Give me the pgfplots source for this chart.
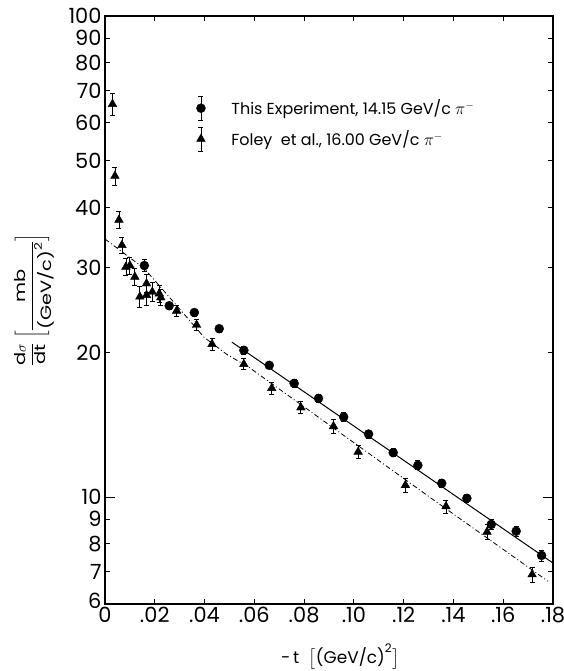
\documentclass[border=0pt]{standalone}
\usepackage{pgfplots}
\pgfplotsset{compat=1.18}
\usepackage{amsmath}
\usepackage{fontspec}
\setmainfont{Poppins}
\newfontfamily\widefont[FakeStretch=1.3]{Poppins}

\pgfplotstableread{
x y e
0.0030 65.6 3.5
0.0040 46.5 2.0
0.0056 37.7 1.5
0.0068 33.4 1.3
0.0084 30.1 1.2
0.0100 30.3 1.2
0.0120 28.7 1.2
0.0140 26.1 1.3
0.0167 26.3 1.3
0.0167 27.8 1.2
0.0190 26.7 1.2
0.0218 26.5 1.1
0.0224 26.0 1.0
0.0288 24.4 0.6
0.0368 22.8 0.6
0.0430 20.8 0.6
0.0558 18.9 0.5
0.0670 16.85 0.5
0.0787 15.36 0.45
0.0918 14.04 0.45
0.1017 12.42 0.4
0.1207 10.59 0.35
0.1370 9.57 0.3
0.1535 8.47 0.3
0.1716 6.91 0.25
}\foley

\pgfplotstableread{
x y e
0.0158 30.3 0.9
0.0258 25.0 0.4
0.0359 24.2 0.4
0.0459 22.4 0.35
0.0558 20.2 0.35
0.0660 18.8 0.3
0.0760 17.24 0.3
0.0858 16.05 0.3
0.0959 14.68 0.3
0.1059 13.53 0.25
0.1158 12.38 0.25
0.1257 11.65 0.25
0.1353 10.69 0.2
0.1454 9.95 0.2
0.1552 8.78 0.2
0.1652 8.50 0.2
0.1754 7.57 0.2
}\thisexp

\begin{document}
\begin{tikzpicture}
\useasboundingbox (-105bp,-67bp) rectangle (459bp,604bp);
\begin{axis}[
  scale only axis, width=448bp, height=588bp,
  ymode=log, xmin=0, xmax=0.18, ymin=6, ymax=100,
  axis line style={line width=1.6bp},
  xtick={0,0.02,0.04,0.06,0.08,0.10,0.12,0.14,0.16,0.18},
  xticklabels={0,.02,.04,.06,.08,.10,.12,.14,.16,.18},
  ytick={6,7,8,9,10,20,30,40,50,60,70,80,90,100},
  yticklabels={\raisebox{6bp}{6},7,8,9,10,20,30,40,50,60,70,80,90,100},
  yminorticks=false, xminorticks=false,
  tick align=inside, major tick length=5bp,
  tick style={line width=0.8bp, black},
  ticklabel style={font=\fontsize{21}{21}\selectfont},
  /pgf/number format/assume math mode=true,
  extra y ticks={10}, extra y tick labels={},
  extra y tick style={major tick length=10bp},
  xlabel={-\,t\;\;$\bigl[\text{(GeV/c)}^{\text{2}}\bigr]$},
  xlabel style={at={(axis description cs:0.525,-0.089)}, anchor=center, font=\fontsize{17}{17}\selectfont},
  ylabel={$\dfrac{\text{d}\sigma}{\text{dt}}\;\biggl[\dfrac{\text{mb}}{\text{(GeV/c)}^{\text{2}}}\biggr]$},
  ylabel style={at={(axis description cs:-0.157,0.517)}, anchor=center, font=\widefont\fontsize{15}{15}\selectfont},
  legend style={draw=none, fill=none, at={(axis description cs:0.197,0.868)}, anchor=north west,
    font=\fontsize{16}{16}\selectfont, row sep=6bp,
    /tikz/every odd column/.append style={column sep=24bp}},
  legend cell align=left,
  legend image code/.code={%
    \draw[line width=0.8bp] (0.3cm,-12bp) -- (0.3cm,12bp);
    \draw[line width=0.8bp] (0.3cm-2.5bp,-12bp) -- (0.3cm+2.5bp,-12bp);
    \draw[line width=0.8bp] (0.3cm-2.5bp,12bp) -- (0.3cm+2.5bp,12bp);
    \draw[#1] plot coordinates {(0.3cm,0cm)};
  },
]
\addplot[only marks, mark=*, black, mark size=4.5bp,
  error bars/.cd, y dir=both, y explicit,
  error bar style={line width=0.8bp},
  error mark options={rotate=90, mark size=2.5bp, line width=0.8bp}]
  table[x=x, y=y, y error=e]{\thisexp};
\addlegendentry{This Experiment, 14.15 GeV/c $\pi^-$}
\addplot[only marks, mark=triangle*, black, mark size=5bp,
  error bars/.cd, y dir=both, y explicit,
  error bar style={line width=0.8bp},
  error mark options={rotate=90, mark size=2.5bp, line width=0.8bp}]
  table[x=x, y=y, y error=e]{\foley};
\addlegendentry{Foley\ \ et al., 16.00 GeV/c $\pi^-$}
\addplot[black, line width=1bp, forget plot] coordinates {(0.051,21.0) (0.18,7.30)};
\addplot[black, line width=0.8bp, forget plot, dash pattern=on 5bp off 2.5bp on 1bp off 2.5bp]
  coordinates {(0,34.4) (0.0157,29.9) (0.0277,25.4) (0.0398,21.5) (0.049,19.8) (0.058,18.6) (0.1305,10.0) (0.178,6.69)};
\end{axis}
\end{tikzpicture}
\end{document}
